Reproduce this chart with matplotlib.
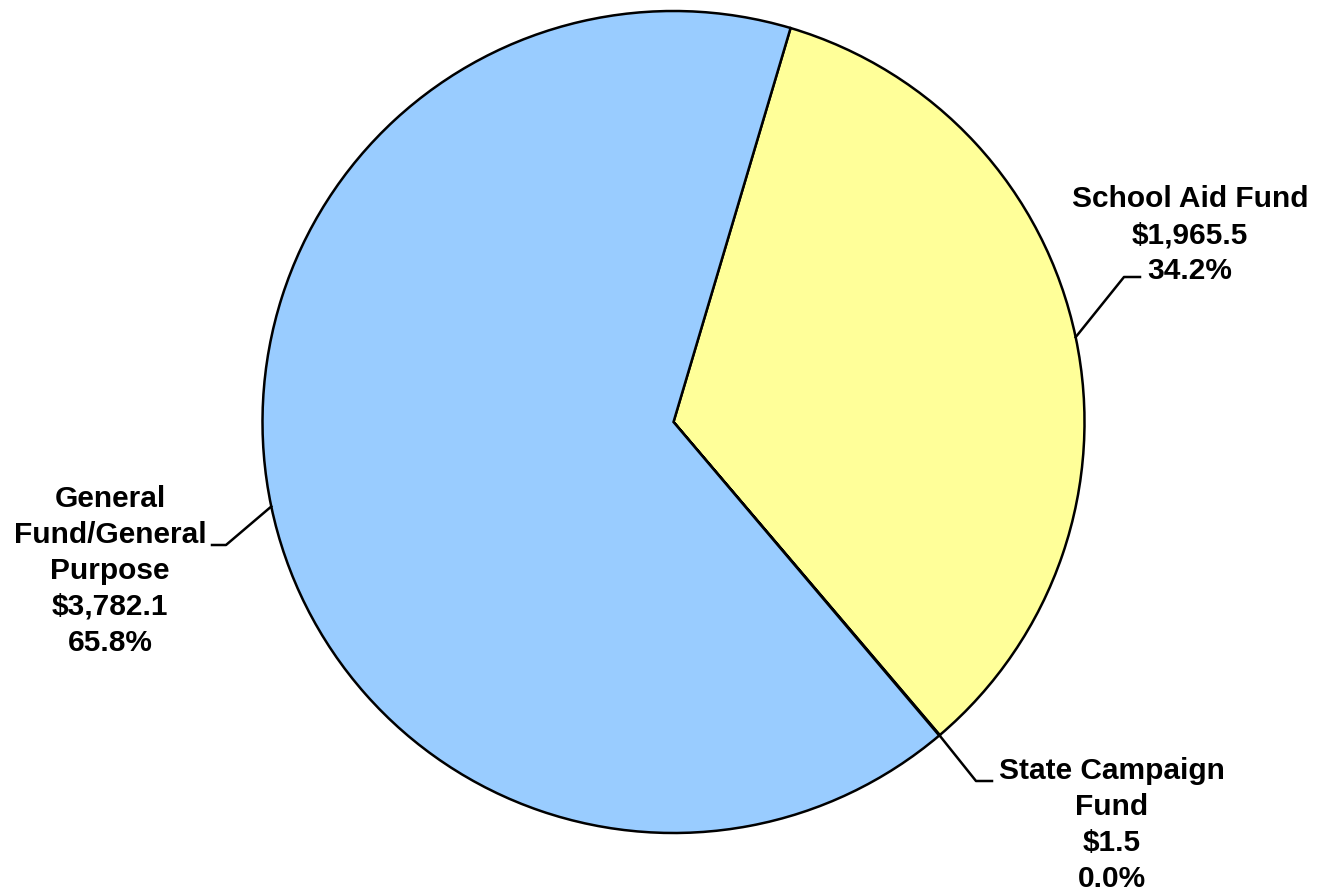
import numpy as np
import matplotlib.pyplot as plt

plt.rcParams['font.family'] = ['Liberation Sans', 'DejaVu Sans']

funds = ["School Aid Fund", "State Campaign\nFund", "General\nFund/General\nPurpose"]
amounts = [1965.5, 1.5, 3782.1]
pcts = ["34.2%", "0.0%", "65.8%"]
colors = ["#FFFF99", "#99CCFF", "#99CCFF"]

W, H = 1325, 892
fig = plt.figure(figsize=(W / 100, H / 100), dpi=100)
ax = fig.add_axes([0, 0, 1, 1])

cx, cy, r = 673.5, H - 422, 411
wedges, _ = ax.pie(amounts, colors=colors, startangle=73.45, counterclock=False,
                   center=(cx, cy), radius=r,
                   wedgeprops=dict(edgecolor="black", linewidth=1.8))
ax.set_xlim(0, W)
ax.set_ylim(0, H)
ax.set_aspect("equal")
ax.axis("off")

# leader line elbows and label centres (pixel coords, y from top)
elbows = [((1124, 277), (1140, 277)), ((976, 781), (992, 781)), ((226, 545), (212, 545))]
label_pos = [(1190, 235), (1112, 825), (110, 571)]

for w, name, amt, pct, (e1, e2), (lx, ly) in zip(wedges, funds, amounts, pcts, elbows, label_pos):
    mid = np.deg2rad((w.theta1 + w.theta2) / 2)
    px, py = cx + r * np.cos(mid), cy + r * np.sin(mid)
    ax.plot([px, e1[0], e2[0]], [py, H - e1[1], H - e2[1]], color="black", lw=1.8)
    ax.text(lx, H - ly, f"{name}\n${amt:,.1f}\n{pct}", ha="center", va="center",
            multialignment="center", fontsize=21.5, fontweight="bold", linespacing=1.36)

fig.savefig("out.png", dpi=100)
